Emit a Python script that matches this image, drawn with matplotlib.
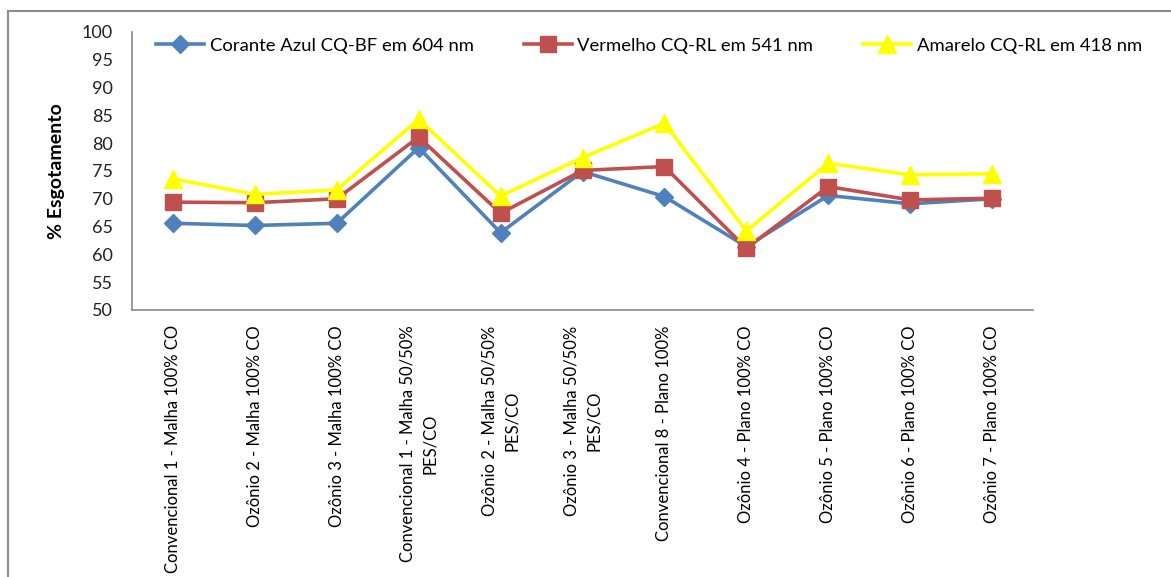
import matplotlib
matplotlib.use("Agg")
import matplotlib.pyplot as plt
import matplotlib.patches as patches

plt.rcParams['font.family'] = ['Lato', 'DejaVu Sans']

categories = [
    "Convencional 1 - Malha 100% CO",
    "Ozônio 2 - Malha 100% CO",
    "Ozônio 3 - Malha 100% CO",
    "Convencional 1 - Malha 50/50%\nPES/CO",
    "Ozônio 2 - Malha 50/50%\nPES/CO",
    "Ozônio 3 - Malha 50/50%\nPES/CO",
    "Convencional 8 - Plano 100%",
    "Ozônio 4 - Plano 100% CO",
    "Ozônio 5 - Plano 100% CO",
    "Ozônio 6 - Plano 100% CO",
    "Ozônio 7 - Plano 100% CO",
]

azul = [65.6, 65.2, 65.6, 79.2, 63.9, 74.9, 70.4, 61.4, 70.6, 69.1, 70.0]
vermelho = [69.4, 69.3, 70.0, 81.1, 67.4, 75.1, 75.8, 61.1, 72.2, 69.8, 70.1]
amarelo = [73.6, 70.8, 71.6, 84.3, 70.5, 77.4, 83.6, 64.2, 76.4, 74.3, 74.5]

labels = ["Corante Azul CQ-BF em 604 nm",
          "Vermelho CQ-RL em 541 nm",
          "Amarelo CQ-RL em 418 nm"]
yticks = list(range(50, 101, 5))

fig = plt.figure(figsize=(11.71, 5.77), dpi=100)
ax = fig.add_axes([132 / 1171, 1 - 310 / 577, (1033 - 132) / 1171, (310 - 32) / 577])

x = range(len(categories))
ax.plot(x, azul, color='#4F81BD', lw=2.6, marker='D', ms=9, label=labels[0])
ax.plot(x, vermelho, color='#C0504D', lw=2.6, marker='s', ms=11, label=labels[1])
ax.plot(x, amarelo, color='#FFFF00', lw=2.6, marker='^', ms=12.5, label=labels[2])

ax.set_xlim(-0.5, len(categories) - 0.5)
ax.set_ylim(50, 100)
ax.set_yticks(yticks)
ax.set_yticklabels([str(v) for v in yticks], fontsize=13, color='#222222')
ax.set_xticks(list(x))
ax.set_xticklabels(categories, rotation=90, fontsize=12, ha='center', va='top',
                   multialignment='center', linespacing=1.5)
ax.tick_params(axis='both', length=0)
ax.tick_params(axis='y', pad=14)
ax.tick_params(axis='x', pad=11)

for side in ['top', 'right']:
    ax.spines[side].set_visible(False)
for side in ['left', 'bottom']:
    ax.spines[side].set_color('#8C8C8C')
    ax.spines[side].set_linewidth(1.2)

ax.set_ylabel("% Esgotamento", fontsize=14, fontweight='bold', labelpad=12)

ax.legend(loc='upper center', bbox_to_anchor=(0.574, 1.04), ncol=3, frameon=False,
          fontsize=13.3, handlelength=2.6, columnspacing=2.7, handletextpad=0.3)

# outer chart frame (cropped at right and bottom)
frame = patches.Rectangle((8 / 1171, -0.2), 1.2, 1 - 11 / 577 + 0.2,
                          transform=fig.transFigure, fill=False,
                          edgecolor='#8C8C8C', linewidth=1.5, clip_on=False)
fig.patches.append(frame)

fig.savefig("out.png", dpi=100)
